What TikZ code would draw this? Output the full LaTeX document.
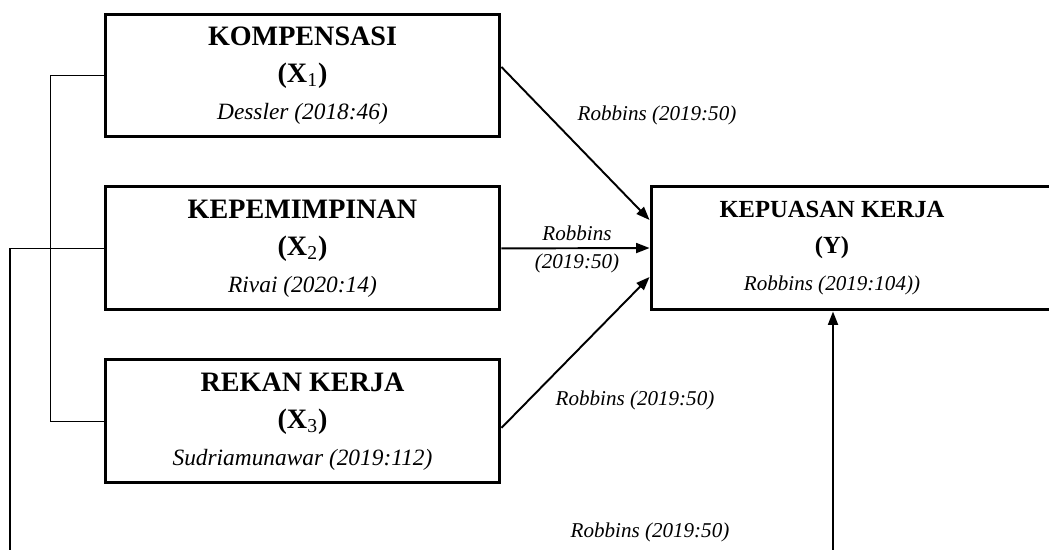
\documentclass[tikz,border=0pt]{standalone}
\usepackage{fontspec}
\setmainfont{Liberation Serif}
\usetikzlibrary{positioning,arrows,arrows.meta,calc}
\newcommand{\varsym}[1]{\textbf{(X}{\mdseries\textsubscript{#1}}\textbf{)}}
\newcommand{\padr}{\rule{0.84cm}{0pt}}

\begin{document}
\begin{tikzpicture}[x=0.02cm, y=-0.02cm, node distance=0.94cm and 1.3cm,
    varbox/.style={draw, line width=1.7pt, minimum width=7.9cm, minimum height=2.46cm,
      align=center, inner sep=0pt, font=\fontsize{16}{21}\selectfont},
    cite/.style={font=\fontsize{12}{16}\selectfont\itshape, align=center, inner sep=1pt},
    link/.style={-{Triangle[length=0.27cm,width=0.2cm]}, line width=1.1pt},
    rail/.style={line width=0.8pt}]
    \useasboundingbox (0,0) rectangle (1049,550);
    % variabel bebas
    \node[varbox] (k1) at (302.5,75.5) {\textbf{KOMPENSASI}\\\varsym{1}\\{\fontsize{13.3}{16}\selectfont\itshape Dessler (2018:46)}};
    \node[varbox, below=of k1] (k2) {\textbf{KEPEMIMPINAN}\\\varsym{2}\\{\fontsize{13.3}{16}\selectfont\itshape Rivai (2020:14)}};
    \node[varbox, below=of k2] (k3) {\textbf{REKAN KERJA}\\\varsym{3}\\{\fontsize{13.3}{16}\selectfont\itshape Sudriamunawar (2019:112)}};
    % variabel terikat
    \node[varbox, minimum width=8.08cm, minimum height=2.48cm, font=\fontsize{14}{21}\selectfont] (kp) at (853,248)
      {\textbf{KEPUASAN KERJA}\padr\\\textbf{(Y)}\padr\\{\fontsize{12}{16}\selectfont\itshape Robbins (2019:104))}\padr};
    \coordinate (low1) at (10,560);
    \coordinate (low2) at (833,560);
    \draw[rail] (k1.west) -- ++(-53,0) |- (k3.west);
    \draw[rail] (k2.west) -| (low1);
    \draw[link] ([yshift=0.17cm]k1.east) -- ([yshift=0.56cm]kp.west);
    \draw[link] (k2.east) -- (kp.west);
    \draw[link] ([yshift=-0.13cm]k3.east) -- ([yshift=-0.58cm]kp.west);
    \draw[link] (low2) -- (low2 |- kp.south);
    \node[cite] (r1) at (657,115) {Robbins (2019:50)};
    \node[cite] (r2) at (577,249) {Robbins\\(2019:50)};
    \node[cite] (r3) at (635,400) {Robbins (2019:50)};
    \node[cite] (r4) at (650,532) {Robbins (2019:50)};
  \end{tikzpicture}
\end{document}
